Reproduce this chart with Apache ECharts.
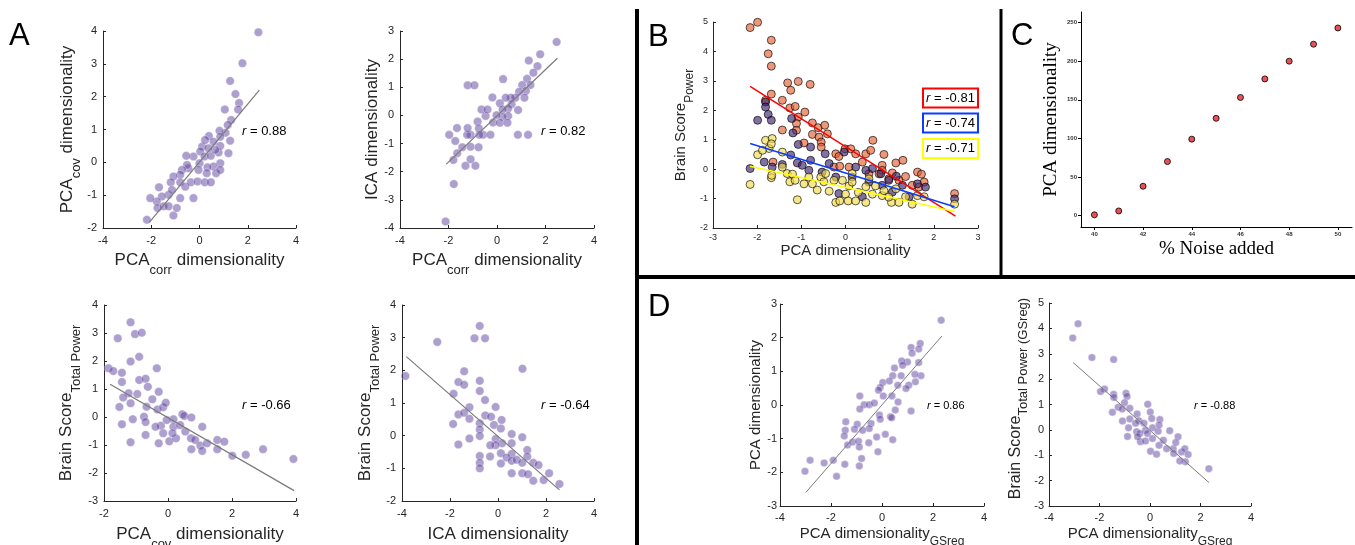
<!DOCTYPE html>
<html><head><meta charset="utf-8">
<script src="https://cdn.jsdelivr.net/npm/echarts@6/dist/echarts.min.js"></script>
<style>html,body{margin:0;padding:0;background:#fff}#c{width:1355px;height:545px}</style>
</head><body><div id="c"></div>
<script>
// ---------------- DATA ----------------
// Panel A (top-left): PCA_corr vs PCA_cov dimensionality
const pcaCorr_pcaCov = [[2.44,3.96],[1.78,3.02],[1.27,2.48],[1.49,2.08],[1.64,1.81],[1.05,1.61],[1.60,1.61],[1.31,1.29],[1.17,1.14],[1.08,0.90],[0.83,0.96],[0.86,0.78],[1.27,0.66],[0.39,0.80],[0.58,0.63],[0.11,0.48],[-0.25,0.18],[-0.55,0.20],[0.03,0.33],[0.21,0.18],[0.47,0.20],[0.79,0.30],[1.20,0.28],[0.86,-0.03],[0.58,-0.13],[0.33,-0.15],[0.00,-0.03],[-0.04,-0.23],[-0.46,-0.18],[-0.52,-0.08],[-0.73,-0.23],[-0.80,-0.38],[-1.08,-0.43],[-1.19,-0.61],[-0.80,-0.61],[-0.59,-0.74],[-0.36,-0.61],[-0.08,-0.58],[0.22,-0.61],[0.47,-0.61],[-0.25,-1.09],[-0.80,-1.09],[-1.28,-0.99],[-1.56,-1.04],[-1.77,-1.19],[-1.74,-1.39],[-2.04,-1.09],[-1.49,-1.34],[-1.28,-1.34],[-1.08,-1.62],[-0.94,-1.39],[-1.68,-0.76],[-1.14,-0.84],[-2.18,-1.75],[0.86,0.50],[0.65,0.38],[0.37,0.43],[0.23,0.68],[0.69,-0.33],[0.86,-0.23],[0.30,-0.33]];
const fitA1 = [[-2.08,-1.83],[2.48,2.20]];
// Panel A (top-right): PCA_corr vs ICA dimensionality
const pcaCorr_ica = [[2.46,2.61],[1.78,2.17],[1.31,1.95],[1.67,1.75],[1.50,1.52],[1.24,1.30],[1.38,1.08],[1.04,1.08],[1.19,0.87],[0.91,0.84],[1.13,0.63],[0.76,0.63],[0.57,0.63],[0.36,0.63],[0.25,1.29],[-0.19,0.64],[0.12,0.43],[0.60,0.40],[0.46,0.25],[0.23,0.21],[0.87,0.19],[0.46,-0.02],[0.23,-0.05],[-0.02,0.01],[-0.16,-0.25],[0.12,-0.26],[0.43,-0.26],[-0.47,-0.02],[-0.64,0.21],[-0.39,0.21],[-0.80,-0.22],[-0.75,-0.46],[-0.57,-0.69],[-0.27,-0.69],[-0.73,-0.69],[-1.09,-0.69],[-1.23,-0.69],[0.86,-0.69],[1.28,-0.69],[-1.21,-0.45],[-1.65,-0.45],[-1.97,-0.69],[-1.72,-0.91],[-1.43,-1.13],[-1.09,-1.11],[-0.76,-1.13],[-1.64,-1.34],[-1.80,-1.58],[-1.09,-1.56],[-1.30,-1.79],[-0.89,-1.79],[-1.78,-2.44],[-2.12,-3.77],[-1.21,1.07],[-0.93,1.07]];
const fitA2 = [[-2.09,-1.73],[2.49,2.03]];
// Panel A (bottom-left): PCA_cov vs Brain Score (Total Power)
const pcaCov_brain = [[-1.17,3.38],[-1.57,2.81],[-1.03,2.96],[-0.82,3.01],[-1.17,1.98],[-0.90,2.15],[-1.86,1.74],[-1.71,1.64],[-0.35,1.74],[-1.44,1.58],[-1.44,1.25],[-0.90,1.32],[-0.70,1.37],[-0.63,1.08],[-1.23,0.85],[-0.96,0.82],[-0.29,0.90],[-1.40,0.70],[-1.52,0.36],[-1.17,0.49],[-0.67,0.37],[-0.49,0.63],[-0.33,0.27],[-0.15,0.35],[-0.07,0.51],[-0.75,0.01],[-0.70,-0.18],[-1.10,-0.08],[-1.44,-0.26],[-0.70,-0.64],[-1.17,-0.90],[-0.29,-0.94],[-0.22,-0.31],[-0.15,-0.58],[0.04,-0.87],[0.17,-0.08],[0.17,-0.35],[0.25,-0.76],[0.14,-0.58],[0.45,0.10],[0.51,0.04],[0.73,-0.02],[0.38,-0.29],[0.54,-0.52],[0.72,-0.76],[0.85,-0.82],[1.07,-0.35],[1.01,-1.02],[1.07,-1.21],[0.73,-1.15],[1.22,-0.94],[1.54,-0.82],[1.76,-0.88],[1.54,-1.15],[2.01,-1.38],[2.43,-1.35],[2.97,-1.15],[3.92,-1.50],[-0.04,-0.11],[-0.39,-0.35]];
const fitA3 = [[-1.81,1.17],[3.94,-2.63]];
// Panel A (bottom-right): ICA vs Brain Score (Total Power)
const ica_brain = [[-3.86,1.83],[-2.53,2.87],[-0.76,3.36],[-0.98,2.98],[-0.54,2.98],[1.02,2.05],[-1.41,1.97],[-0.76,1.68],[-1.65,1.64],[-1.41,1.56],[-1.85,1.28],[-0.76,1.37],[-0.54,1.09],[-1.19,0.87],[-0.10,0.88],[-1.65,0.65],[-1.41,0.70],[-1.19,0.52],[-0.53,0.62],[-0.29,0.58],[0.15,0.48],[-1.87,0.36],[-0.76,0.38],[-0.17,0.33],[0.12,0.22],[-0.76,0.19],[-0.76,-0.01],[-1.65,-0.27],[-1.19,-0.09],[-0.10,-0.10],[0.57,0.05],[1.01,-0.05],[0.17,-0.23],[0.57,-0.23],[-0.10,-0.29],[-0.32,-0.29],[-0.33,-0.64],[0.12,-0.54],[0.57,-0.56],[-0.76,-0.62],[-0.76,-0.83],[-0.76,-1.00],[0.36,-0.67],[0.12,-0.85],[0.57,-0.77],[0.78,-0.74],[1.01,-0.83],[1.22,-0.44],[1.22,-0.64],[1.47,-0.83],[1.69,-0.90],[0.57,-1.15],[1.01,-1.15],[1.25,-1.18],[1.47,-1.38],[1.90,-1.36],[2.13,-1.15],[2.56,-1.48]];
const fitA4 = [[-3.82,2.42],[2.56,-1.66]];
// Panel B: PCA dimensionality vs Brain Score (Power), three bands
const bandOrange = [[-2.16,4.81],[-1.99,4.99],[-1.68,4.38],[-1.75,3.92],[-1.68,3.50],[-1.68,2.55],[-1.31,2.93],[-1.07,2.98],[-0.80,2.88],[-1.24,2.68],[-1.26,2.08],[-1.14,2.13],[-0.92,1.94],[-1.07,1.77],[-1.11,1.55],[-1.11,1.32],[-0.75,1.57],[-0.62,1.41],[-0.47,1.49],[-0.41,1.20],[-0.75,1.18],[-0.60,1.09],[-0.55,0.92],[-0.55,0.75],[-0.94,0.89],[-1.43,1.33],[-0.22,0.52],[-0.15,0.43],[-0.01,0.69],[0.12,0.69],[0.23,0.52],[0.46,0.52],[0.62,0.98],[0.57,0.64],[0.87,0.50],[0.83,0.13],[1.14,0.21],[1.30,0.30],[1.06,-0.13],[0.83,-0.04],[1.63,-0.10],[1.72,-0.17],[1.78,-0.44],[2.47,-0.83],[-0.26,0.07],[-0.13,0.10],[0.08,0.07],[0.38,0.24],[0.53,-0.16],[0.76,-0.16],[0.98,-0.33],[1.21,-0.38],[1.36,-0.25],[1.51,-0.55],[1.66,-0.61],[-1.64,0.24],[-1.43,2.34],[-1.81,2.34]];
const bandPurple = [[-1.81,2.28],[-1.75,1.86],[-1.99,1.66],[-1.68,1.66],[-1.22,1.72],[-1.19,1.23],[-1.07,0.84],[-0.79,0.75],[-1.81,2.11],[-1.24,0.48],[-1.43,0.16],[-1.66,0.07],[-1.84,0.24],[-2.16,0.02],[-1.09,0.21],[-0.98,0.13],[-0.79,0.30],[-0.46,0.52],[-0.37,0.19],[-0.03,0.58],[0.23,0.07],[0.46,-0.04],[0.61,0.02],[0.80,-0.16],[0.98,-0.38],[1.15,-0.24],[1.29,-0.55],[1.63,-0.50],[1.81,-0.61],[2.47,-1.01],[-0.22,-0.27],[0.15,-0.27],[0.53,-0.44],[0.83,-0.55],[1.06,-0.78],[1.44,-0.94],[-0.53,-0.10],[-0.83,-0.04],[-0.15,-0.83],[0.38,-0.94]];
const bandYellow = [[-2.16,-0.52],[-1.99,0.49],[-1.81,0.98],[-1.66,1.04],[-1.73,0.70],[-1.88,0.64],[-1.68,0.86],[-1.68,-0.29],[-1.67,-0.21],[-1.43,0.58],[-1.32,-0.15],[-1.20,-0.17],[-1.26,-0.43],[-1.14,-0.38],[-1.09,-1.04],[-0.94,-0.50],[-0.83,-0.27],[-0.75,-0.50],[-0.64,-0.71],[-0.56,-0.27],[-0.49,-0.43],[-0.45,-0.15],[-0.37,-0.75],[-0.26,-0.38],[-0.22,-1.13],[-0.13,-1.08],[0.00,-0.85],[0.08,-0.57],[0.06,-1.08],[0.23,-1.08],[0.29,-0.79],[0.46,-1.13],[0.46,-0.60],[0.61,-0.85],[0.68,-0.57],[0.83,-0.90],[0.87,-0.73],[1.04,-1.13],[1.21,-1.13],[1.14,-0.67],[1.36,-0.94],[1.51,-1.19],[1.63,-0.90],[1.78,-0.94],[2.47,-1.19],[-0.07,-0.38],[0.15,-0.44],[0.53,-0.33],[0.15,-0.15],[0.98,-0.95],[-1.43,0.07]];
const fitBOrange = [[-2.16,2.81],[2.49,-1.60]];
const fitBPurple = [[-2.16,0.87],[2.47,-1.28]];
const fitBYellow = [[-2.16,0.10],[2.47,-1.44]];
const bLegend = ['-0.81','-0.74','-0.71'];
// Panel C: % noise added vs PCA dimensionality
const noisePct = [40,41,42,43,44,45,46,47,48,49,50];
const noiseDim = [1,6,38,70,99,126,153,177,200,222,243];
const cXTicks = [40,42,44,46,48,50];
const cYTicks = [0,50,100,150,200,250];
// Panel D (left): PCA_GSreg vs PCA dimensionality
const pcaGs_pca = [[2.32,2.52],[1.50,1.83],[1.14,1.71],[1.44,1.66],[1.18,1.54],[1.44,1.26],[1.00,1.28],[0.77,1.31],[0.49,1.10],[0.81,1.18],[1.53,0.87],[1.31,0.69],[1.29,0.91],[1.05,0.59],[0.94,0.49],[0.75,0.87],[0.42,0.87],[0.03,0.67],[-0.07,0.52],[0.29,0.71],[0.62,0.59],[-0.14,0.44],[0.05,0.27],[0.39,0.27],[0.63,0.09],[-0.87,0.27],[-0.70,0.01],[-0.50,0.01],[-0.30,0.06],[-0.87,-0.12],[0.52,-0.15],[1.14,-0.18],[-0.97,-0.57],[-1.42,-0.50],[-0.10,-0.30],[-0.07,-0.42],[0.33,-0.35],[0.38,-0.38],[-0.43,-0.55],[-0.50,-0.70],[-0.76,-0.75],[-1.44,-0.75],[-1.08,-0.72],[-1.48,-0.92],[-1.35,-1.19],[-1.15,-1.10],[-0.92,-1.08],[-0.89,-1.25],[-0.52,-1.12],[0.13,-0.87],[0.42,-1.03],[-0.16,-1.39],[-0.80,-1.59],[-0.89,-1.81],[-1.46,-1.76],[-1.91,-1.64],[-2.27,-1.72],[-2.82,-1.64],[-3.02,-1.97],[-1.78,-2.12],[-0.21,-0.95]];
const fitD1 = [[-2.99,-2.60],[2.35,2.05]];
// Panel D (right): PCA_GSreg vs Brain Score (GSreg)
const pcaGs_brain = [[-3.06,3.62],[-2.85,4.18],[-2.30,2.85],[-1.44,2.77],[-1.80,1.61],[-1.96,1.51],[-1.44,1.40],[-1.43,1.28],[-0.95,1.44],[-0.91,1.32],[-1.01,1.07],[-1.26,0.89],[-1.49,0.69],[-1.10,0.82],[-0.80,0.85],[-0.09,1.01],[0.01,0.70],[0.07,0.45],[-1.09,0.35],[-0.80,0.43],[-0.51,0.63],[-0.44,0.36],[-0.57,0.26],[-0.24,0.26],[-0.18,-0.01],[0.39,0.41],[-0.89,-0.26],[-0.85,0.08],[-0.53,-0.07],[-0.40,-0.14],[-0.10,-0.14],[0.10,0.08],[0.32,-0.05],[0.36,0.19],[0.78,-0.03],[-0.38,-0.47],[-0.18,-0.44],[0.02,-0.84],[0.26,-0.96],[0.36,-0.61],[0.53,-0.41],[0.66,-0.74],[0.92,-0.74],[1.11,-0.27],[1.02,-0.50],[0.94,-0.93],[1.25,-0.87],[1.38,-0.74],[1.51,-0.97],[1.40,-1.26],[1.18,-1.23],[2.33,-1.53],[-0.49,-0.27],[0.10,-0.34]];
const fitD2 = [[-3.04,2.65],[2.34,-2.08]];
const rValues = ['0.88','0.82','-0.66','-0.64','0.86','-0.88'];

// ---------------- STYLE / BUILD ----------------
const FONT = '"Liberation Sans", Arial, Helvetica, sans-serif';
const SERIF = '"Liberation Serif", "Times New Roman", serif';
const AX = '#262626';

function richFor(mainFs, subFs, drop, spacer) {
  const p = Math.round((drop + 0.85 * (mainFs - subFs)) * 10) / 10;
  const r = {
    m: {fontSize: mainFs, fontFamily: FONT, color: AX, lineHeight: mainFs + 3, verticalAlign: 'top'},
    s: {fontSize: subFs, fontFamily: FONT, color: AX, lineHeight: p + subFs, padding: [p, 0, 0, 0], verticalAlign: 'top'}
  };
  if (spacer) r.sp = {width: spacer, fontSize: mainFs, lineHeight: mainFs + 3, verticalAlign: 'top'};
  return r;
}

function mkAxis(isY, g, o) {
  const a = {
    type: 'value', gridIndex: g, min: o.min, max: o.max,
    axisLine: {show: true, onZero: false, lineStyle: {color: o.lc || AX, width: 1}},
    axisTick: {show: true, inside: o.tickOut ? false : true, length: 3, lineStyle: {color: o.lc || AX, width: 1}},
    axisLabel: {show: true, fontSize: o.lfs, color: o.lcol || AX, fontFamily: o.lfam || FONT, margin: o.lm, fontWeight: o.lfw || 'normal'},
    splitLine: {show: false},
    name: o.name, nameLocation: 'middle', nameGap: o.gap,
    nameTextStyle: o.rich ? {rich: o.rich} : {fontSize: o.nfs, fontFamily: o.nfam || FONT, color: o.ncol || AX}
  };
  if (o.interval != null) a.interval = o.interval;
  if (o.custom) { a.axisLabel.customValues = o.custom; a.axisTick.customValues = o.custom; }
  if (isY) a.nameRotate = 90;
  return a;
}

const grids = [
  {left: 103, top: 31, width: 193, height: 197},
  {left: 400, top: 31, width: 194, height: 197},
  {left: 104, top: 305, width: 192, height: 196},
  {left: 402, top: 305, width: 192, height: 196},
  {left: 713, top: 22, width: 265, height: 206},
  {left: 1081, top: 12, width: 271, height: 215},
  {left: 780, top: 304, width: 204, height: 202},
  {left: 1049, top: 303, width: 202, height: 203}
].map(g => Object.assign({containLabel: false, outerBoundsMode: 'none'}, g));

const richA = richFor(17, 13, 8.5);
const richB = richFor(15, 12, 8);
const richD = richFor(15, 12, 7);
const richDy = richFor(16, 13, 7, 12);

const xAxes = [
  mkAxis(false, 0, {min: -4, max: 4, interval: 2, lfs: 11, lm: 7, name: '{m|PCA}{s|corr}{m| dimensionality}', rich: richA, gap: 24}),
  mkAxis(false, 1, {min: -4, max: 4, interval: 2, lfs: 11, lm: 7, name: '{m|PCA}{s|corr}{m| dimensionality}', rich: richA, gap: 24}),
  mkAxis(false, 2, {min: -2, max: 4, interval: 2, lfs: 11, lm: 7, name: '{m|PCA}{s|cov}{m| dimensionality}', rich: richA, gap: 25}),
  mkAxis(false, 3, {min: -4, max: 4, interval: 2, lfs: 11, lm: 7, name: 'ICA dimensionality', nfs: 17, gap: 25}),
  mkAxis(false, 4, {min: -3, max: 3, interval: 1, lfs: 9, lm: 5, name: 'PCA dimensionality', nfs: 15, gap: 15}),
  mkAxis(false, 5, {min: 39.45, max: 50.58, custom: cXTicks, tickOut: true, lc: '#000', lfs: 6, lm: 4, lfw: 'bold', lcol: '#333', name: '% Noise added', nfs: 19, nfam: SERIF, ncol: '#000', gap: 13}),
  mkAxis(false, 6, {min: -4, max: 4, interval: 2, lfs: 11, lm: 6, name: '{m|PCA dimensionality}{s|GSreg}', rich: richD, gap: 20}),
  mkAxis(false, 7, {min: -4, max: 4, interval: 2, lfs: 11, lm: 6, name: '{m|PCA dimensionality}{s|GSreg}', rich: richD, gap: 20})
];
const yAxes = [
  mkAxis(true, 0, {min: -2, max: 4, interval: 1, lfs: 11, lm: 6, name: '{m|PCA}{s|cov}{m| dimensionality}', rich: richA, gap: 19}),
  mkAxis(true, 1, {min: -4, max: 3, interval: 1, lfs: 11, lm: 6, name: 'ICA dimensionality', nfs: 17, gap: 17}),
  mkAxis(true, 2, {min: -3, max: 4, interval: 1, lfs: 11, lm: 6, name: '{m|Brain Score}{s|Total Power}', rich: richA, gap: 21}),
  mkAxis(true, 3, {min: -2, max: 4, interval: 1, lfs: 11, lm: 6, name: '{m|Brain Score}{s|Total Power}', rich: richA, gap: 20}),
  mkAxis(true, 4, {min: -2, max: 5, interval: 1, lfs: 9, lm: 5, name: '{m|Brain Score}{s|Power}', rich: richB, gap: 15}),
  mkAxis(true, 5, {min: -14.8, max: 263.7, custom: cYTicks, tickOut: true, lc: '#000', lfs: 6, lm: 4, lfw: 'bold', lcol: '#333', name: 'PCA dimensionality', nfs: 19, nfam: SERIF, ncol: '#000', gap: 20}),
  mkAxis(true, 6, {min: -3, max: 3, interval: 1, lfs: 11, lm: 3, name: 'PCA dimensionality', nfs: 15, gap: 14}),
  mkAxis(true, 7, {min: -3, max: 5, interval: 1, lfs: 11, lm: 5, name: '{sp| }{m|Brain Score}{s|Total Power (GSreg)}', rich: richDy, gap: 15})
];

const purpleDot = {color: 'rgba(92,62,156,0.62)', borderColor: 'rgba(255,255,255,0.7)', borderWidth: 0.6};
function scatterA(data, g, size) {
  return {type: 'scatter', xAxisIndex: g, yAxisIndex: g, data: data, symbolSize: size, itemStyle: purpleDot, silent: true, z: 2};
}
function fitLine(data, g, color, w) {
  return {type: 'line', xAxisIndex: g, yAxisIndex: g, data: data, showSymbol: false, symbol: 'none', silent: true, z: 3,
    lineStyle: {color: color, width: w}};
}
function scatterB(data, fill) {
  return {type: 'scatter', xAxisIndex: 4, yAxisIndex: 4, data: data, symbolSize: 8, silent: true, z: 2,
    itemStyle: {color: fill, borderColor: 'rgba(0,0,0,0.8)', borderWidth: 1}};
}

const series = [
  scatterA(pcaCorr_pcaCov, 0, 8.5), fitLine(fitA1, 0, '#7a7a7a', 1.2),
  scatterA(pcaCorr_ica, 1, 8.5), fitLine(fitA2, 1, '#7a7a7a', 1.2),
  scatterA(pcaCov_brain, 2, 8.5), fitLine(fitA3, 2, '#7a7a7a', 1.2),
  scatterA(ica_brain, 3, 8.5), fitLine(fitA4, 3, '#7a7a7a', 1.2),
  scatterB(bandOrange, 'rgba(227,92,49,0.8)'),
  scatterB(bandPurple, 'rgba(60,35,110,0.8)'),
  scatterB(bandYellow, 'rgba(242,217,74,0.8)'),
  fitLine(fitBOrange, 4, '#ff0000', 1.5), fitLine(fitBPurple, 4, '#0a3cff', 1.5), fitLine(fitBYellow, 4, '#ffff00', 1.5),
  {type: 'scatter', xAxisIndex: 5, yAxisIndex: 5, data: noisePct.map((x, i) => [x, noiseDim[i]]), symbolSize: 6, silent: true,
    itemStyle: {color: '#e3262b', borderColor: '#000', borderWidth: 1}},
  scatterA(pcaGs_pca, 6, 7.5), fitLine(fitD1, 6, '#7a7a7a', 1),
  scatterA(pcaGs_brain, 7, 7.5), fitLine(fitD2, 7, '#7a7a7a', 1)
];

function rText(x, y, val, fs) {
  return {type: 'text', x: x, y: y, z: 10, silent: true, style: {
    text: '{i|r}{n| = ' + val + '}', verticalAlign: 'middle', textVerticalAlign: 'middle',
    rich: {i: {fontStyle: 'italic', fontSize: fs, fontFamily: FONT, fill: '#000'}, n: {fontSize: fs, fontFamily: FONT, fill: '#000'}}
  }};
}
function letter(x, y, t) {
  return {type: 'text', x: x, y: y, z: 10, silent: true, style: {text: t, fontSize: 31, fontFamily: FONT, fill: '#000', verticalAlign: 'middle', textVerticalAlign: 'middle'}};
}
const boxColors = ['#ff0000', '#0a3cff', '#ffff00'];
const boxTops = [88.5, 113.5, 139];
const graphics = [
  {type: 'rect', z: 20, silent: true, shape: {x: 635, y: 9, width: 4, height: 536}, style: {fill: '#000'}},
  {type: 'rect', z: 20, silent: true, shape: {x: 999.5, y: 9, width: 3, height: 268}, style: {fill: '#000'}},
  {type: 'rect', z: 20, silent: true, shape: {x: 635, y: 275, width: 720, height: 4}, style: {fill: '#000'}},
  letter(9, 36, 'A'), letter(648, 37.5, 'B'), letter(1011, 36.5, 'C'), letter(648, 307, 'D'),
  rText(242, 131, rValues[0], 13), rText(541, 131, rValues[1], 13),
  rText(242, 405.5, rValues[2], 13), rText(541, 405.5, rValues[3], 13),
  rText(927, 406, rValues[4], 11), rText(1194, 406, rValues[5], 11)
];
bLegend.forEach((v, i) => {
  graphics.push({type: 'rect', z: 10, silent: true, shape: {x: 923, y: boxTops[i], width: 55, height: 19}, style: {fill: '#fff', stroke: boxColors[i], lineWidth: 2}});
  graphics.push({type: 'text', z: 11, silent: true, x: 950.5, y: boxTops[i] + 9.5, style: {
    text: '{i|r}{n| = ' + v + '}', align: 'center', textAlign: 'center', verticalAlign: 'middle', textVerticalAlign: 'middle',
    rich: {i: {fontStyle: 'italic', fontSize: 13, fontFamily: FONT, fill: '#000'}, n: {fontSize: 13, fontFamily: FONT, fill: '#000'}}}});
});

const chart = echarts.init(document.getElementById('c'), null, {renderer: 'canvas'});
chart.setOption({
  animation: false,
  backgroundColor: '#fff',
  grid: grids, xAxis: xAxes, yAxis: yAxes, series: series, graphic: graphics
});
</script></body></html>
